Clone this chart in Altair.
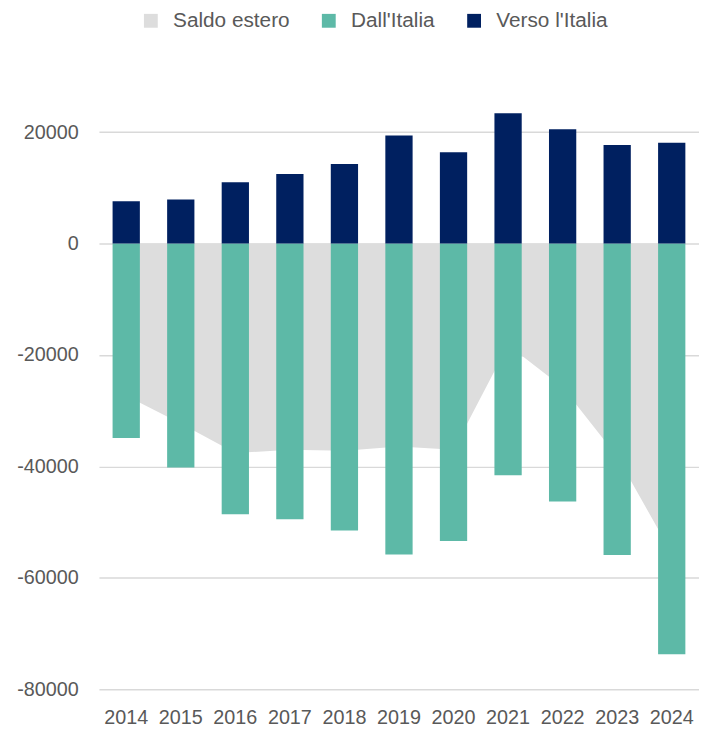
import altair as alt
import pandas as pd

years = ["2014", "2015", "2016", "2017", "2018", "2019", "2020", "2021", "2022", "2023", "2024"]
verso = [7600, 7900, 11000, 12500, 14300, 19400, 16400, 23400, 20500, 17700, 18100]
dall = [-34900, -40200, -48600, -49500, -51500, -55800, -53400, -41600, -46300, -55900, -73700]
saldo = [-27300, -32300, -37600, -37000, -37200, -36400, -37000, -18200, -25800, -38200, -55600]

series_names = ["Saldo estero", "Dall'Italia", "Verso l'Italia"]
series_colors = ["#DDDDDD", "#5DB9A7", "#002060"]
y_ticks = [-80000, -60000, -40000, -20000, 0, 20000]

rows = []
for name, vals in zip(series_names, [saldo, dall, verso]):
    for yr, v in zip(years, vals):
        rows.append({"year": yr, "series": name, "value": v})
df = pd.DataFrame(rows)

FONT = "Liberation Sans, Arial, sans-serif"
TXT = "#595959"

color = alt.Color(
    "series:N",
    sort=series_names,
    scale=alt.Scale(domain=series_names, range=series_colors),
    legend=alt.Legend(
        title=None,
        orient="none",
        direction="horizontal",
        legendX=42,
        legendY=-67,
        symbolType="square",
        symbolSize=196,
        symbolStrokeWidth=0,
        symbolOpacity=1,
        labelFontSize=21,
        labelFont=FONT,
        labelColor=TXT,
        labelOffset=12,
        columnPadding=29,
        padding=0,
    ),
)

xscale = alt.Scale(paddingInner=0.5, paddingOuter=0.25)
xaxis = alt.Axis(
    title=None, labelAngle=0, domain=False, ticks=False, labelPadding=19,
    labelFontSize=20, labelFont=FONT, labelColor=TXT, grid=False,
)
yscale = alt.Scale(domain=[-80000, 30000], nice=False)
yaxis = alt.Axis(
    title=None, values=y_ticks, labelExpr="datum.value + ''", domain=False, ticks=False,
    labelPadding=21, labelFontSize=20, labelFont=FONT, labelColor=TXT,
    gridColor="#D9D9D9", gridWidth=1.5,
)

base = alt.Chart(df)

area = base.transform_filter(alt.datum.series == "Saldo estero").mark_area(
    opacity=1, interpolate="linear"
).encode(
    x=alt.X("year:O", bandPosition=0.5, scale=xscale, axis=xaxis),
    y=alt.Y("value:Q", stack=None, scale=yscale, axis=yaxis),
    color=color,
)

bars = base.transform_filter(alt.datum.series != "Saldo estero").mark_bar(
    opacity=1
).encode(
    x=alt.X("year:O", scale=xscale, axis=xaxis),
    y=alt.Y("value:Q", stack=None, scale=yscale, axis=yaxis),
    color=color,
)

chart = alt.layer(area, bars).properties(
    width=607,
    height=620,
    background="white",
    autosize=alt.AutoSizeParams(type="none"),
    padding={"left": 92, "top": 65, "right": 0, "bottom": 40},
).configure_view(stroke=None)

chart.save("out.html", embed_options={"renderer": "svg", "actions": False})
